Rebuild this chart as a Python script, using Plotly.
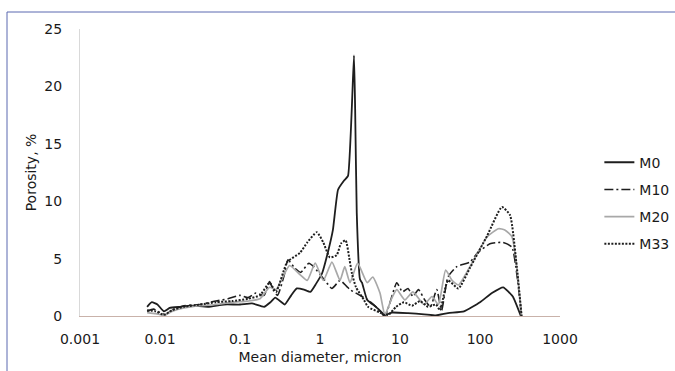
import plotly.graph_objects as go

# Mean diameter (micron) and porosity (%)
d_m0 = [0.0069, 0.0079, 0.0093, 0.0112, 0.0132, 0.0178, 0.0251, 0.0398, 0.0631, 0.1, 0.141, 0.2,
        0.24, 0.275, 0.331, 0.363, 0.437, 0.513, 0.631, 0.759, 0.891, 1.06, 1.26, 1.45, 1.68,
        2.0, 2.24, 2.66, 2.75, 2.88, 3.16, 3.35, 3.89, 5.01, 6.46, 7.94, 12.6, 20, 28.2, 39.8,
        63.1, 100, 141, 195, 257, 324]
p_m0 = [0.8, 1.2, 1.0, 0.4, 0.7, 0.8, 0.9, 0.8, 1.0, 1.0, 1.1, 0.8,
        1.2, 1.6, 1.2, 1.0, 1.8, 2.4, 2.3, 2.1, 2.8, 3.7, 5.6, 7.5, 11.0,
        11.8, 12.2, 22.7, 18.0, 9.0, 3.2, 2.9, 1.4, 0.8, 0.1, 0.3, 0.25, 0.15, 0.05, 0.25,
        0.4, 1.2, 2.0, 2.5, 1.7, 0.0]

d_m10 = [0.0069, 0.0083, 0.01, 0.0117, 0.0141, 0.02, 0.0316, 0.05, 0.0708, 0.1, 0.126, 0.158,
         0.2, 0.234, 0.263, 0.295, 0.355, 0.398, 0.479, 0.575, 0.724, 0.832, 1.15, 1.41, 1.78,
         2.14, 2.37, 3.16, 3.98, 5.01, 6.46, 9.12, 10.7, 12.6, 14.5, 17.0, 20.4, 24.0, 28.8,
         33.1, 39.8, 51.3, 75.0, 93.3, 133, 162, 195, 251, 288, 331]
p_m10 = [0.4, 0.6, 0.3, 0.1, 0.5, 0.9, 1.0, 1.3, 1.5, 1.8, 1.6, 2.0,
         1.8, 3.0, 2.2, 1.8, 3.5, 4.9, 4.2, 3.8, 4.6, 4.3, 3.1, 2.4, 3.1,
         2.6, 2.3, 1.8, 1.4, 0.8, 0.0, 2.9, 2.1, 2.4, 1.7, 2.3, 1.4, 0.8, 2.3,
         0.5, 3.4, 4.3, 4.7, 5.5, 6.3, 6.4, 6.4, 6.0, 3.7, 0.0]

d_m20 = [0.0069, 0.0089, 0.0112, 0.0141, 0.02, 0.0316, 0.05, 0.0794, 0.126, 0.178, 0.234, 0.282,
         0.355, 0.417, 0.562, 0.692, 0.871, 1.1, 1.41, 1.78, 2.04, 2.37, 2.95, 3.89, 4.57,
         5.62, 6.46, 7.94, 9.12, 11.5, 14.5, 20.0, 25.1, 30.2, 37.2, 44.7, 53.7, 75.0, 123,
         170, 204, 251, 288, 331]
p_m20 = [0.3, 0.2, 0.05, 0.4, 0.7, 0.9, 1.0, 1.2, 1.3, 1.5, 2.5, 2.3,
         3.6, 4.4, 3.6, 3.1, 4.6, 3.1, 4.7, 3.1, 4.3, 2.9, 4.6, 2.9, 3.4,
         2.0, 0.1, 1.6, 2.3, 1.4, 2.1, 1.0, 1.7, 1.0, 4.0, 3.1, 2.7, 4.3, 6.9,
         7.6, 7.5, 6.9, 4.3, 0.0]

d_m33 = [0.0069, 0.0089, 0.0112, 0.0141, 0.02, 0.0316, 0.05, 0.0794, 0.126, 0.178, 0.234, 0.282,
         0.389, 0.562, 0.692, 0.912, 1.1, 1.33, 1.62, 1.82, 2.09, 2.34, 2.51, 2.82, 3.55,
         3.98, 5.62, 6.92, 8.91, 11.2, 14.1, 17.8, 22.4, 28.2, 31.6, 39.8, 53.7, 75.0, 123,
         188, 237, 288, 331]
p_m33 = [0.5, 0.4, 0.1, 0.5, 0.8, 1.0, 1.2, 1.3, 1.5, 1.8, 2.9, 2.1,
         4.7, 5.5, 6.4, 7.3, 6.4, 5.1, 5.3, 6.3, 6.6, 4.9, 3.7, 2.5, 1.4,
         0.8, 0.3, 0.0, 0.8, 1.2, 0.9, 1.3, 0.8, 1.0, 0.5, 3.1, 2.4, 4.2, 7.0,
         9.5, 8.8, 4.3, 0.0]

x_ticks = [0.001, 0.01, 0.1, 1, 10, 100, 1000]
x_tick_text = ["0.001", "0.01", "0.1", "1", "10", "100", "1000"]
y_ticks = [0, 5, 10, 15, 20, 25]

FONT = "DejaVu Sans"
TXT = "#1a1a1a"

fig = go.Figure()
series = [
    ("M0", d_m0, p_m0, dict(color="#1e1e1e", width=1.8, dash="solid", shape="spline", smoothing=0.4)),
    ("M10", d_m10, p_m10, dict(color="#1e1e1e", width=1.6, dash="9px,3px,2px,3px", shape="spline", smoothing=0.5)),
    ("M20", d_m20, p_m20, dict(color="#a8a8a8", width=1.7, dash="solid", shape="spline", smoothing=0.5)),
    ("M33", d_m33, p_m33, dict(color="#1e1e1e", width=2.0, dash="2px,1.5px", shape="spline", smoothing=0.5)),
]
for name, xs, ys, ln in series:
    fig.add_trace(go.Scatter(x=xs, y=ys, mode="lines", name=name, line=ln,
                             legendgroup=name))

fig.update_layout(
    width=675, height=371,
    margin=dict(l=80, r=115, t=29, b=55, autoexpand=False),
    paper_bgcolor="white", plot_bgcolor="white",
    font=dict(family=FONT, size=14, color=TXT),
    showlegend=True,
    legend=dict(x=1.082, y=0.59, xanchor="left", yanchor="top",
                tracegroupgap=6, font=dict(size=14, color=TXT),
                bgcolor="rgba(0,0,0,0)"),
    xaxis=dict(type="log", range=[-3, 3], tickvals=x_ticks, ticktext=x_tick_text,
               showgrid=False, zeroline=False, showline=True, linecolor="#c9b2aa",
               linewidth=1, ticks="", ticklabelstandoff=10,
               title=dict(text="Mean diameter, micron", standoff=6,
                          font=dict(size=14, color=TXT))),
    yaxis=dict(range=[0, 25], tickvals=y_ticks, showgrid=False, zeroline=False,
               showline=True, linecolor="#d9d9d9", linewidth=1, ticks="",
               ticklabelstandoff=14,
               title=dict(text="Porosity, %", standoff=4,
                          font=dict(size=14, color=TXT))),
)

# frame lines (cropped box) in paper coordinates
fig.add_shape(type="line", xref="paper", yref="paper", x0=(7 - 80) / 480, x1=(675 - 80) / 480,
              y0=(316 - 12) / 287, y1=(316 - 12) / 287, line=dict(color="#5a68b0", width=1))
fig.add_shape(type="line", xref="paper", yref="paper", x0=(7 - 80) / 480, x1=(7 - 80) / 480,
              y0=(316 - 12) / 287, y1=(316 - 371) / 287, line=dict(color="#5a68b0", width=1))

fig.write_html("out.html")
